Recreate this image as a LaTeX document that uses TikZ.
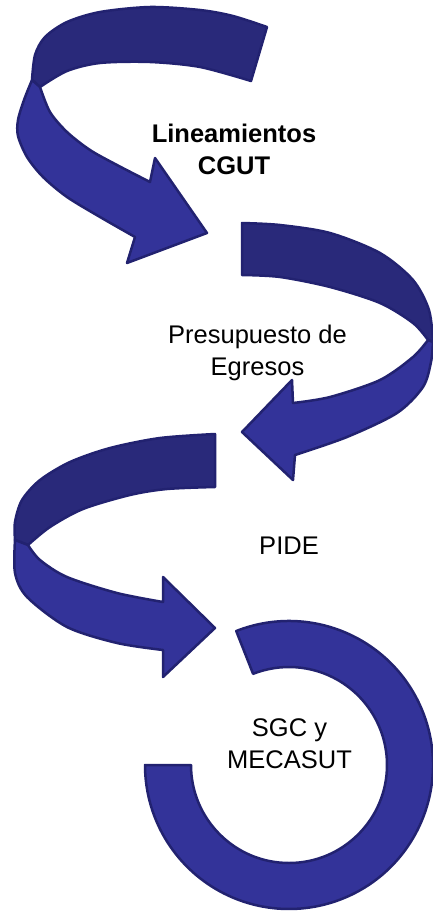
\documentclass[tikz,border=0pt]{standalone}
\usepackage{fontspec}
\setmainfont{Liberation Sans}
\definecolor{backc}{HTML}{29297A}
\definecolor{frontc}{HTML}{333399}
\definecolor{edgec}{HTML}{222270}
\begin{document}
\begin{tikzpicture}[x=1pt,y=-1pt,
  backband/.style={fill=backc,draw=edgec,line width=2.5pt,line join=round},
  frontband/.style={fill=frontc,draw=edgec,line width=2.5pt,line join=round},
  lbl/.style={inner sep=0pt,align=center,anchor=north,text=black,font=\fontsize{25.5}{32}\selectfont}]
\useasboundingbox (0,0) rectangle (433,916);
% arrow 1
\path[backband] (267,27) -- plot[smooth] coordinates {(267,27) (233,16) (200,10) (150,7) (100,12) (67,22) (45,37) (35,55) (32,80)}
  -- (40,87) -- plot[smooth] coordinates {(40,87) (67,71) (100,63) (150,62) (200,67) (251,81)} -- cycle;
\path[frontband] (32,80) -- plot[smooth] coordinates {(32,80) (24,100) (18,120) (18,136) (27,157) (43,177) (67,197) (100,217) (135,237)}
  -- (127,263) -- (207,233) -- (155,158) -- (150,182)
  -- plot[smooth] coordinates {(150,182) (117,165) (90,150) (67,132) (50,112) (40,87)} -- cycle;
% arrow 2
\path[backband] (242,223) -- plot[smooth] coordinates {(242,223) (280,225) (330,233) (380,253) (413,280) (429,310) (433,342)}
  -- (428,340) -- plot[smooth] coordinates {(428,340) (413,323) (380,303) (330,287) (280,277) (242,275)} -- cycle;
\path[frontband] (433,342) -- plot[smooth] coordinates {(433,342) (431,362) (423,387) (397,413) (347,437) (295,455)}
  -- (293,480) -- (242,432) -- (292,380) -- (293,403)
  -- plot[smooth] coordinates {(293,403) (330,397) (380,380) (413,357) (428,340)} -- cycle;
% arrow 3
\path[backband] (215,434) -- plot[smooth] coordinates {(215,434) (160,438) (110,448) (70,462) (40,480) (22,500) (15,522) (15,540)}
  -- (28,545) -- plot[smooth] coordinates {(28,545) (50,527) (83,509) (130,495) (167,489) (215,487)} -- cycle;
\path[frontband] (15,540) -- plot[smooth] coordinates {(15,540) (15,573) (27,597) (67,627) (117,643) (163,650)}
  -- (163,677) -- (215,628) -- (163,577) -- (163,602)
  -- plot[smooth] coordinates {(163,602) (117,593) (67,577) (40,560) (28,545)} -- cycle;
% ring
\path[frontband] (289,765) ++(-111.5:144) arc[start angle=-111.5,end angle=180,radius=144]
  -- (191,765) arc[start angle=180,end angle=-111.5,radius=98] -- cycle;
% labels
\node[lbl,font=\fontsize{25.5}{32}\selectfont\bfseries] (t1) at (234,124) {Lineamientos\\CGUT};
\node[lbl] (t2) at (257.5,325) {Presupuesto de\\Egresos};
\node[lbl] (t3) at (289,537) {PIDE};
\node[lbl] (t4) at (289.5,718) {SGC y\\MECASUT};
\end{tikzpicture}
\end{document}
